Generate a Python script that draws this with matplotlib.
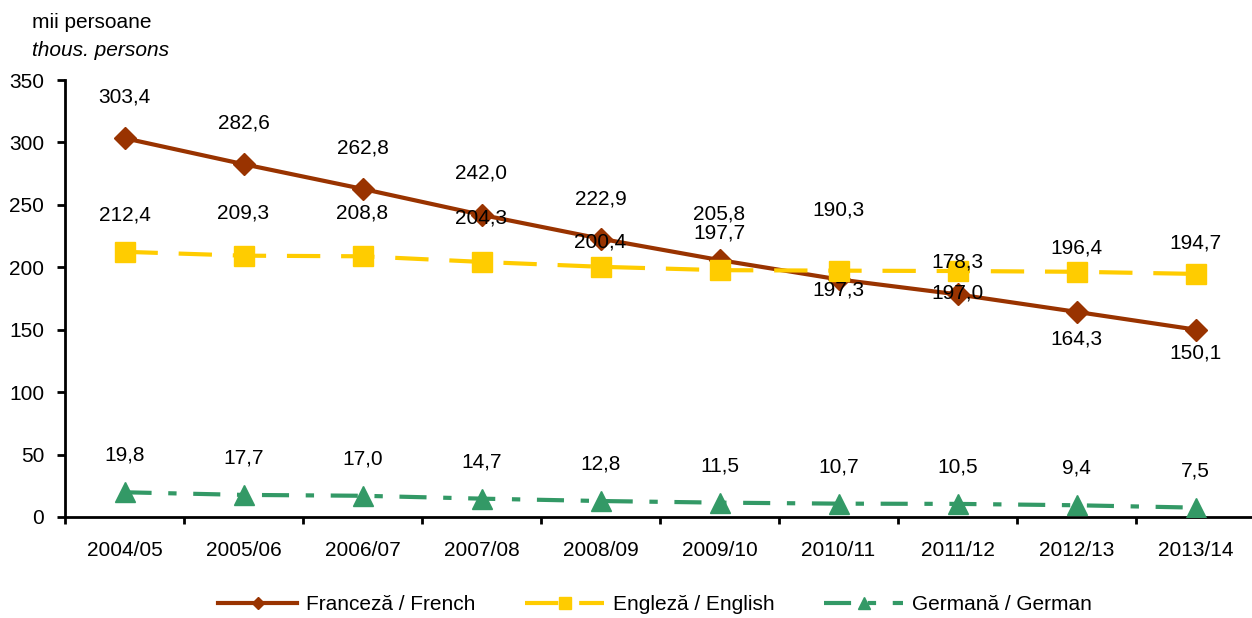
import numpy as np
import matplotlib.pyplot as plt

plt.rcParams['font.family'] = ['Liberation Sans', 'DejaVu Sans']

years = ["2004/05", "2005/06", "2006/07", "2007/08", "2008/09",
         "2009/10", "2010/11", "2011/12", "2012/13", "2013/14"]
french = [303.4, 282.6, 262.8, 242.0, 222.9, 205.8, 190.3, 178.3, 164.3, 150.1]
english = [212.4, 209.3, 208.8, 204.3, 200.4, 197.7, 197.3, 197.0, 196.4, 194.7]
german = [19.8, 17.7, 17.0, 14.7, 12.8, 11.5, 10.7, 10.5, 9.4, 7.5]

# label offsets in pixels (positive = up), as placed in the original
off_fr = [41, 41, 41, 42, 40, 46, 69, 32, -27, -23]
off_en = [37, 43, 43, 44, 25, 37, -19, -22, 24, 31]
off_de = [37] * 10

c_fr = "#993300"
c_en = "#FFCC00"
c_de = "#339966"

fig = plt.figure(figsize=(12.52, 6.18), dpi=100)
ax = fig.add_axes([65 / 1252, 1 - 517 / 618, (1255 - 65) / 1252, 437 / 618])

x = np.arange(len(years))
l1, = ax.plot(x, french, color=c_fr, lw=3, marker='D', ms=11, zorder=3,
              label="Franceză / French")
l2, = ax.plot(x, english, color=c_en, lw=3, marker='s', ms=14, zorder=4,
              dashes=(8, 5), label="Engleză / English")
l3, = ax.plot(x, german, color=c_de, lw=3, marker='^', ms=15, zorder=3,
              dashes=(6.5, 4, 2, 4), label="Germană / German")


def fmt(v):
    return f"{v:.1f}".replace(".", ",")


for vals, offs in [(french, off_fr), (english, off_en), (german, off_de)]:
    for i, (v, o) in enumerate(zip(vals, offs)):
        ax.annotate(fmt(v), (i, v), xytext=(0, o), textcoords='offset pixels',
                    ha='center', va='center', fontsize=15, zorder=5)

ax.set_xlim(-0.5, 9.5)
ax.set_ylim(0, 350)
ax.set_yticks(range(0, 351, 50))
ax.set_xticks(x)
ax.set_xticklabels(years)
ax.set_xticks(np.arange(-0.5, 10, 1), minor=True)
ax.tick_params(axis='x', which='major', length=0, pad=17, labelsize=15)
ax.tick_params(axis='x', which='minor', length=5, width=2, direction='out')
ax.tick_params(axis='y', length=6, width=2, pad=9, labelsize=15)
for s in ['top', 'right']:
    ax.spines[s].set_visible(False)
for s in ['left', 'bottom']:
    ax.spines[s].set_linewidth(2)

fig.text(32 / 1252, 1 - 22 / 618, "mii persoane", fontsize=15, va='center')
fig.text(32 / 1252, 1 - 50 / 618, "thous. persons", fontsize=15, va='center',
         style='italic')

fig.legend(handles=[l1, l2, l3], loc='center', bbox_to_anchor=(655 / 1252, 1 - 605 / 618),
           ncol=3, frameon=False, fontsize=15, handlelength=3.8, handletextpad=0.4,
           columnspacing=2.4, markerscale=0.6)

fig.savefig("out.png", dpi=100)
